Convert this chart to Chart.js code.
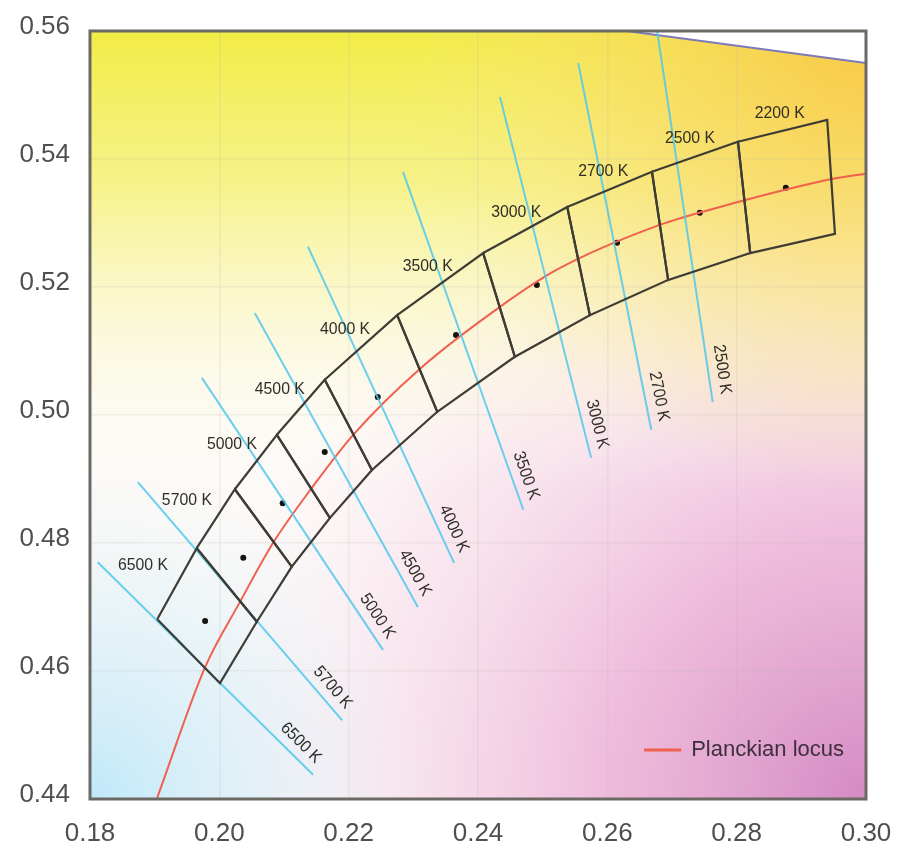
<!DOCTYPE html>
<html>
<head>
<title>ANSI chromaticity quadrangles (u'v')</title>
<script src="https://cdn.jsdelivr.net/npm/chart.js"></script>
<style>
    body { margin: 0; background: #fff; }
    canvas { display: block; }
</style>
</head>
<body>
<canvas id="cie" width="899" height="844"></canvas>
<script>
// quadrangles, coolest first; boundary corners shared between neighbours
const quadLabels = ['6500 K', '5700 K', '5000 K', '4500 K', '4000 K', '3500 K', '3000 K', '2700 K', '2500 K', '2200 K'];
const upperU = [0.1904, 0.1965, 0.2024, 0.2089, 0.2163, 0.2275, 0.2408, 0.2538, 0.2669, 0.2802, 0.2940];
const upperV = [0.4681, 0.4792, 0.4884, 0.4969, 0.5055, 0.5156, 0.5253, 0.5325, 0.5380, 0.5427, 0.5461];
const lowerU = [0.2001, 0.2058, 0.2112, 0.2171, 0.2236, 0.2337, 0.2457, 0.2573, 0.2694, 0.2821, 0.2952];
const lowerV = [0.4581, 0.4677, 0.4763, 0.4839, 0.4914, 0.5005, 0.5091, 0.5156, 0.5211, 0.5253, 0.5283];

// nominal centre points
const centerU = [0.1978, 0.2037, 0.2098, 0.2163, 0.2245, 0.2366, 0.2491, 0.2615, 0.2743, 0.2876];
const centerV = [0.4678, 0.4777, 0.4862, 0.4942, 0.5028, 0.5125, 0.5203, 0.5269, 0.5316, 0.5355];

// Planckian locus
const locusU = [0.1904, 0.1978, 0.2032, 0.2083, 0.2143, 0.2207, 0.2310, 0.2434, 0.2522, 0.2681, 0.2774, 0.2949, 0.3000];
const locusV = [0.4402, 0.4606, 0.4708, 0.4800, 0.4886, 0.4969, 0.5072, 0.5169, 0.5227, 0.5297, 0.5325, 0.5369, 0.5377];

// isotemperature lines (upper start, lower end)
const isoLabels = ['6500 K', '5700 K', '5000 K', '4500 K', '4000 K', '3500 K', '3000 K', '2700 K', '2500 K'];
const isoStartU = [0.1812, 0.1874, 0.1973, 0.2055, 0.2137, 0.2284, 0.2434, 0.2555, 0.2677];
const isoStartV = [0.4770, 0.4895, 0.5058, 0.5159, 0.5263, 0.5380, 0.5497, 0.5550, 0.5600];
const isoEndU = [0.2145, 0.2190, 0.2253, 0.2307, 0.2363, 0.2470, 0.2575, 0.2668, 0.2763];
const isoEndV = [0.4438, 0.4523, 0.4633, 0.4700, 0.4769, 0.4852, 0.4933, 0.4977, 0.5020];

// spectrum locus edge in the top right corner
const spectrumU = [0.2630, 0.3000];
const spectrumV = [0.5600, 0.5550];

const uMin = 0.18, uMax = 0.30, vMin = 0.44, vMax = 0.56, tickStep = 0.02;

const pts = (us, vs) => us.map((u, i) => ({ x: u, y: vs[i] }));
const labelFont = '17px "Liberation Sans", Arial, sans-serif';

const datasets = [];
quadLabels.forEach((name, i) => {
    datasets.push({
        label: name,
        data: pts(
            [upperU[i], upperU[i + 1], lowerU[i + 1], lowerU[i], upperU[i]],
            [upperV[i], upperV[i + 1], lowerV[i + 1], lowerV[i], upperV[i]]
        ),
        showLine: true,
        borderColor: '#3e3c34',
        borderWidth: 2.2,
        borderJoinStyle: 'miter',
        pointRadius: 0
    });
});
isoLabels.forEach((name, i) => {
    datasets.push({
        label: name + ' isotherm',
        data: pts([isoStartU[i], isoEndU[i]], [isoStartV[i], isoEndV[i]]),
        showLine: true,
        borderColor: 'rgba(80, 200, 236, 0.85)',
        borderWidth: 2,
        pointRadius: 0
    });
});
datasets.push({
    label: 'Spectrum locus',
    data: pts(spectrumU, spectrumV),
    showLine: true,
    fill: 'end',
    backgroundColor: '#ffffff',
    borderColor: '#7c7ab8',
    borderWidth: 2,
    pointRadius: 0
});
datasets.push({
    label: 'Planckian locus',
    data: pts(locusU, locusV),
    showLine: true,
    cubicInterpolationMode: 'monotone',
    borderColor: '#f0604e',
    borderWidth: 2,
    pointRadius: 0
});
datasets.push({
    label: 'Centres',
    data: pts(centerU, centerV),
    showLine: false,
    pointRadius: 3,
    pointBackgroundColor: '#151510',
    pointBorderWidth: 0
});

// colour wash of the chromaticity diagram
const backdrop = {
    id: 'backdrop',
    beforeDraw(chart) {
        const { ctx, chartArea: a } = chart;
        const w = a.right - a.left, h = a.bottom - a.top;
        ctx.save();
        ctx.fillStyle = '#fdfaf7';
        ctx.fillRect(a.left, a.top, w, h);

        let g = ctx.createRadialGradient(a.right, a.bottom, 0, a.right, a.bottom, w * 0.95);
        g.addColorStop(0, 'rgba(212, 138, 196, 1)');
        g.addColorStop(0.35, 'rgba(234, 172, 212, 0.8)');
        g.addColorStop(0.7, 'rgba(246, 214, 232, 0.45)');
        g.addColorStop(1, 'rgba(255, 255, 255, 0)');
        ctx.fillStyle = g;
        ctx.fillRect(a.left, a.top, w, h);

        g = ctx.createRadialGradient(a.left, a.bottom, 0, a.left, a.bottom, w * 0.45);
        g.addColorStop(0, 'rgba(192, 232, 250, 1)');
        g.addColorStop(0.5, 'rgba(214, 238, 248, 0.6)');
        g.addColorStop(1, 'rgba(235, 245, 250, 0)');
        ctx.fillStyle = g;
        ctx.fillRect(a.left, a.top, w, h);

        g = ctx.createLinearGradient(0, a.top, 0, a.bottom);
        g.addColorStop(0, 'rgba(242, 236, 70, 1)');
        g.addColorStop(0.2, 'rgba(245, 240, 110, 0.8)');
        g.addColorStop(0.42, 'rgba(250, 248, 195, 0.4)');
        g.addColorStop(0.6, 'rgba(255, 255, 255, 0)');
        ctx.fillStyle = g;
        ctx.fillRect(a.left, a.top, w, h);

        g = ctx.createRadialGradient(a.right, a.top, 0, a.right, a.top, w * 0.6);
        g.addColorStop(0, 'rgba(250, 196, 68, 0.9)');
        g.addColorStop(0.5, 'rgba(250, 210, 100, 0.45)');
        g.addColorStop(1, 'rgba(250, 225, 140, 0)');
        ctx.fillStyle = g;
        ctx.fillRect(a.left, a.top, w, h);
        ctx.restore();
    }
};

function drawText(ctx, text, x, y, angle, align) {
    ctx.save();
    ctx.translate(x, y);
    ctx.rotate(angle);
    ctx.scale(0.93, 1);
    ctx.textAlign = align;
    ctx.textBaseline = 'middle';
    ctx.fillText(text, 0, 0);
    ctx.restore();
}

const annotate = {
    id: 'annotate',
    afterDatasetsDraw(chart) {
        const { ctx, scales: { x, y } } = chart;
        ctx.save();
        ctx.font = labelFont;
        ctx.fillStyle = '#2f2e28';

        // quadrangle names above the upper boundary
        quadLabels.forEach((name, i) => {
            const x0 = x.getPixelForValue(upperU[i]), y0 = y.getPixelForValue(upperV[i]);
            const x1 = x.getPixelForValue(upperU[i + 1]), y1 = y.getPixelForValue(upperV[i + 1]);
            const slope = Math.abs((y1 - y0) / (x1 - x0));
            const cx = (x0 + x1) / 2 - 3 - 20 * (slope - 0.25);
            const cy = (y0 + y1) / 2 - 18;
            drawText(ctx, name, cx, cy, 0, 'center');
        });

        // isotherm names along the lower end of each line
        isoLabels.forEach((name, i) => {
            const x0 = x.getPixelForValue(isoStartU[i]), y0 = y.getPixelForValue(isoStartV[i]);
            const x1 = x.getPixelForValue(isoEndU[i]), y1 = y.getPixelForValue(isoEndV[i]);
            const ang = Math.atan2(y1 - y0, x1 - x0);
            const ox = -6 * Math.cos(ang) + 14 * Math.sin(ang);
            const oy = -6 * Math.sin(ang) - 14 * Math.cos(ang);
            drawText(ctx, name, x1 + ox, y1 + oy, ang, 'right');
        });
        ctx.restore();
    },
    afterDraw(chart) {
        const { ctx, chartArea: a } = chart;
        ctx.save();
        // frame
        ctx.strokeStyle = '#6a6964';
        ctx.lineWidth = 3;
        ctx.strokeRect(a.left, a.top, a.right - a.left, a.bottom - a.top);

        // legend, bottom right
        const locus = chart.data.datasets.find(d => d.label === 'Planckian locus');
        ctx.font = '22px "Liberation Sans", Arial, sans-serif';
        const tw = ctx.measureText(locus.label).width;
        const ty = a.bottom - 49;
        const tx = a.right - 22 - tw;
        ctx.fillStyle = '#3d2f3d';
        ctx.textBaseline = 'middle';
        ctx.textAlign = 'left';
        ctx.fillText(locus.label, tx, ty);
        ctx.strokeStyle = locus.borderColor;
        ctx.lineWidth = 3;
        ctx.beginPath();
        ctx.moveTo(tx - 47, ty);
        ctx.lineTo(tx - 10, ty);
        ctx.stroke();
        ctx.restore();
    }
};

const tickFont = { family: '"Liberation Sans", Arial, sans-serif', size: 26 };

new Chart(document.getElementById('cie').getContext('2d'), {
    type: 'scatter',
    data: { datasets },
    plugins: [backdrop, annotate],
    options: {
        responsive: false,
        animation: false,
        devicePixelRatio: 1,
        layout: { padding: { top: 31, right: 33, left: 0, bottom: 0 } },
        plugins: {
            legend: { display: false },
            tooltip: { enabled: false }
        },
        scales: {
            x: {
                type: 'linear',
                min: uMin,
                max: uMax,
                afterFit(axis) {
                    axis.height = 45;
                    axis.paddingLeft = 0;
                    axis.paddingRight = 0;
                },
                border: { display: false },
                grid: { color: 'rgba(185, 185, 170, 0.18)', lineWidth: 1.5, drawTicks: false },
                ticks: {
                    stepSize: tickStep,
                    padding: 19,
                    color: '#4f4f4f',
                    font: tickFont,
                    maxRotation: 0,
                    callback: v => v.toFixed(2)
                }
            },
            y: {
                type: 'linear',
                min: vMin,
                max: vMax,
                afterFit(axis) {
                    axis.width = 90;
                    axis.paddingTop = 0;
                    axis.paddingBottom = 0;
                },
                border: { display: false },
                grid: { color: 'rgba(185, 185, 170, 0.18)', lineWidth: 1.5, drawTicks: false },
                ticks: {
                    stepSize: tickStep,
                    padding: 20,
                    labelOffset: -4,
                    color: '#4f4f4f',
                    font: tickFont,
                    callback: v => v.toFixed(2)
                }
            }
        }
    }
});
</script>
</body>
</html>
